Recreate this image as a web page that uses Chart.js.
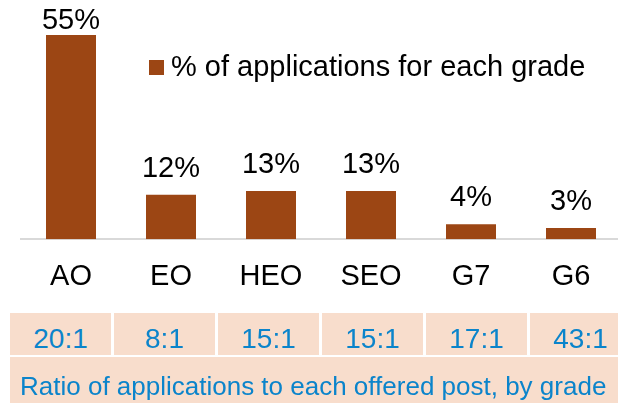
<!DOCTYPE html>
<html>
<head>
<meta charset="utf-8">
<script src="https://cdn.jsdelivr.net/npm/chart.js@4"></script>
<style>
  html, body { margin: 0; padding: 0; background: #fff; overflow: hidden; width: 618px; height: 403px; }
  #wrap { position: absolute; left: 0; top: 0; width: 640px; height: 321px; }
  .ratio, .note {
    position: absolute; background: #F8DDCC; color: #0B84CB;
    font-family: "Liberation Sans", Arial, sans-serif; white-space: nowrap; box-sizing: border-box;
  }
  .ratio { top: 313px; height: 42px; width: 101px; padding-top: 10px; line-height: 32px; font-size: 28px; text-align: center; }
  .note { left: 10px; top: 357px; width: 630px; height: 50px; padding: 14px 0 0 10px; line-height: 30px; font-size: 26px; }
</style>
</head>
<body>
<div id="wrap"><canvas class="myChart" width="640" height="321"></canvas></div>
<div id="ratios"></div>
<div class="note" id="note"></div>
<script>
var grades = ['AO', 'EO', 'HEO', 'SEO', 'G7', 'G6'];
var share = [55, 12, 13, 13, 4, 3];
var ratios = ['20:1', '8:1', '15:1', '15:1', '17:1', '43:1'];
var seriesName = '% of applications for each grade';
var noteText = 'Ratio of applications to each offered post, by grade';

var Brown = '#9C4614';
var FontFamily = '"Liberation Sans", Arial, sans-serif';

// ratio strip under the axis
var row = document.getElementById('ratios');
ratios.forEach(function (r, i) {
    var cell = document.createElement('div');
    cell.className = 'ratio';
    cell.style.left = (10 + i * 104) + 'px';
    cell.textContent = r;
    row.appendChild(cell);
});
document.getElementById('note').textContent = noteText;

// percentage labels above the bars
var valueLabels = {
    id: 'valueLabels',
    afterDatasetsDraw: function (chart) {
        var ctx = chart.ctx;
        var meta = chart.getDatasetMeta(0);
        ctx.save();
        ctx.font = '29px ' + FontFamily;
        ctx.fillStyle = '#000';
        ctx.textAlign = 'center';
        ctx.textBaseline = 'alphabetic';
        meta.data.forEach(function (bar, i) {
            var y = Math.max(bar.y - 18, 29);
            ctx.fillText(share[i] + '%', bar.x, y);
        });
        ctx.restore();
    }
};

// legend sits inside the plot, to the right of the tall bar
var insideLegend = {
    id: 'insideLegend',
    afterDraw: function (chart) {
        var ctx = chart.ctx;
        ctx.save();
        ctx.fillStyle = Brown;
        ctx.fillRect(149, 60, 15, 15);
        ctx.fillStyle = '#000';
        ctx.font = '29px ' + FontFamily;
        ctx.textBaseline = 'alphabetic';
        ctx.textAlign = 'left';
        ctx.fillText(seriesName, 171, 76);
        ctx.restore();
    }
};

var ctx = document.getElementsByClassName('myChart')[0].getContext('2d');
var chart = new Chart(ctx, {
    type: 'bar',
    data: {
        labels: grades,
        datasets: [{
            label: seriesName,
            data: share,
            backgroundColor: Brown,
            borderWidth: 0,
            barPercentage: 0.5,
            categoryPercentage: 1
        }]
    },
    options: {
        responsive: false,
        animation: false,
        layout: { padding: { left: 21, right: 19, top: 35, bottom: 7 } },
        plugins: {
            legend: { display: false },
            tooltip: { enabled: false }
        },
        scales: {
            x: {
                grid: { display: false, drawTicks: false },
                border: { display: true, color: '#D9D9D9', width: 2 },
                ticks: { color: '#000', padding: 20, font: { size: 29, family: FontFamily } }
            },
            y: {
                display: false,
                min: 0,
                max: 55
            }
        }
    },
    plugins: [valueLabels, insideLegend]
});
</script>
</body>
</html>
